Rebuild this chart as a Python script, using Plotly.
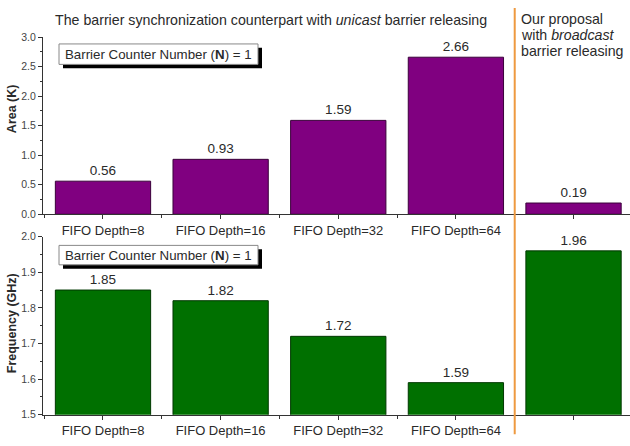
import plotly.graph_objects as go

# Categories and measured values
categories = ["FIFO Depth=8", "FIFO Depth=16", "FIFO Depth=32", "FIFO Depth=64", ""]
area_k = [0.56, 0.93, 1.59, 2.66, 0.19]
freq_ghz = [1.85, 1.82, 1.72, 1.59, 1.96]
positions = [0, 1, 2, 3, 4]
divider_x = 3.5
proposal_lines = ["Our proposal", "with <i>broadcast</i>", "barrier releasing"]

W, H = 630, 446
FONT = "Arial, Liberation Sans, sans-serif"
TXT = "#2a2a2a"


def px_x(p):
    return p / W


def px_y(p):
    return 1 - p / H


fig = go.Figure()

fig.add_trace(go.Bar(
    x=positions, y=area_k, xaxis="x", yaxis="y",
    marker=dict(color="#800080", line=dict(color="#3a003a", width=1)),
    text=[f"{v:.2f}" for v in area_k], textposition="outside",
    textfont=dict(size=13.5, color=TXT, family=FONT), cliponaxis=False,
))
fig.add_trace(go.Bar(
    x=positions, y=freq_ghz, xaxis="x2", yaxis="y2",
    marker=dict(color="#007000", line=dict(color="#003800", width=1)),
    text=[f"{v:.2f}" for v in freq_ghz], textposition="outside",
    textfont=dict(size=13.5, color=TXT, family=FONT), cliponaxis=False,
))

x_dom = [px_x(43), 1.0]
xr = [-0.51, 4.48]
common_x = dict(
    range=xr, domain=x_dom, tickmode="array", tickvals=positions, ticktext=categories,
    ticks="outside", ticklen=4, tickcolor="#333", showline=True, linecolor="#333",
    linewidth=1, showgrid=False, zeroline=False,
    tickfont=dict(size=13, color=TXT, family=FONT),
    minor=dict(ticks="outside", ticklen=3, tick0=0.5, dtick=1, tickcolor="#333"),
)
common_y = dict(
    ticks="outside", ticklen=4, tickcolor="#333", showline=True, linecolor="#333",
    linewidth=1, showgrid=False, zeroline=False,
    tickfont=dict(size=10.5, color="#444", family=FONT),
)

fig.update_layout(
    width=W, height=H, margin=dict(l=0, r=0, t=0, b=0),
    paper_bgcolor="white", plot_bgcolor="white", showlegend=False,
    bargap=0.19, font=dict(family=FONT, color=TXT),
    xaxis=dict(common_x, anchor="y"),
    yaxis=dict(common_y, domain=[px_y(214), px_y(32)], range=[0, 3.0], dtick=0.5,
               tickformat=".1f", anchor="x",
               minor=dict(ticks="outside", ticklen=2, dtick=0.25, tickcolor="#333")),
    xaxis2=dict(common_x, anchor="y2"),
    yaxis2=dict(common_y, domain=[px_y(420), px_y(237)], range=[1.5, 2.0], dtick=0.1,
                tickformat=".1f", anchor="x2",
                minor=dict(ticks="outside", ticklen=2, dtick=0.05, tickcolor="#333")),
)

# Rotated axis titles
for label, yc in [("<b>Area (K)</b>", 106), ("<b>Frequency (GHz)</b>", 326)]:
    fig.add_annotation(xref="paper", yref="paper", x=px_x(12), y=px_y(yc), text=label,
                       textangle=-90, showarrow=False,
                       font=dict(size=12.5, color=TXT, family=FONT),
                       xanchor="center", yanchor="middle")

# Vertical divider between the counterpart designs and the proposal
fig.add_shape(type="line", xref="x", yref="paper", x0=divider_x, x1=divider_x,
              y0=px_y(440), y1=px_y(2), line=dict(color="#EE9A40", width=2))

# Info boxes with drop shadow
for top, bottom in [(39, 60), (246, 266)]:
    fig.add_shape(type="rect", xref="paper", yref="paper",
                  x0=px_x(63), x1=px_x(262), y0=px_y(bottom + 4), y1=px_y(top + 4),
                  fillcolor="black", line=dict(width=0), layer="above")
    fig.add_shape(type="rect", xref="paper", yref="paper",
                  x0=px_x(59), x1=px_x(258), y0=px_y(bottom), y1=px_y(top),
                  fillcolor="white", line=dict(color="#888", width=1), layer="above")
    fig.add_annotation(xref="paper", yref="paper", x=px_x(158), y=px_y((top + bottom) / 2),
                       text="Barrier Counter Number (<b>N</b>) = 1", showarrow=False,
                       font=dict(size=13.3, color=TXT, family=FONT),
                       xanchor="center", yanchor="middle")

fig.add_annotation(xref="paper", yref="paper", x=px_x(271), y=px_y(14),
                   text="The barrier synchronization counterpart with <i>unicast</i> barrier releasing",
                   showarrow=False, font=dict(size=14.2, color=TXT, family=FONT),
                   xanchor="center", yanchor="middle")
for i, line in enumerate(proposal_lines):
    fig.add_annotation(xref="paper", yref="paper", x=px_x(519), y=px_y(13 + 16.5 * i),
                       text=line, showarrow=False, font=dict(size=14.2, color=TXT, family=FONT),
                       xanchor="left", yanchor="middle")

fig.write_html("out.html")
